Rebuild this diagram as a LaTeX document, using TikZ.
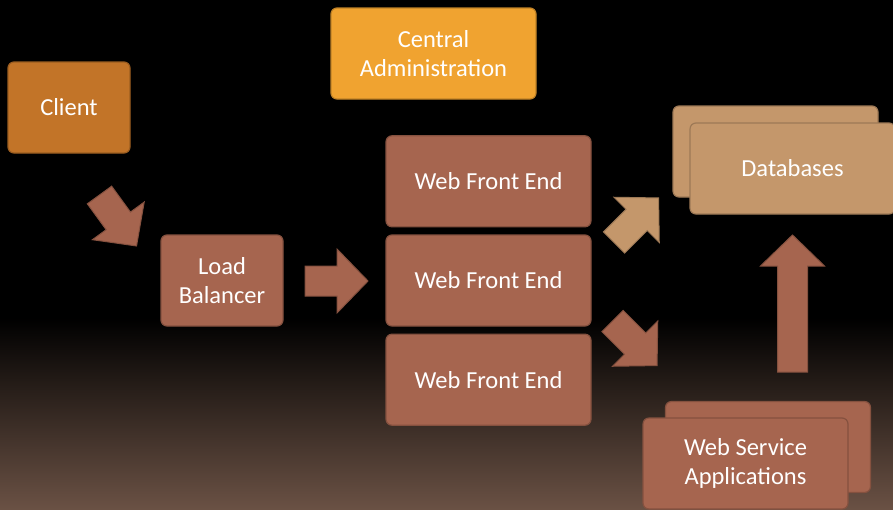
\documentclass[tikz,border=0pt]{standalone}
\usepackage{fontspec}
\setmainfont{Carlito}
\usetikzlibrary{positioning}

\definecolor{rust}{HTML}{A6654F}
\definecolor{tan}{HTML}{C4976B}
\definecolor{clientc}{HTML}{C27428}
\definecolor{admin}{HTML}{F0A330}
\definecolor{bgbot}{HTML}{6A5144}

\begin{document}
\begin{tikzpicture}[x=1pt,y=-1pt,node distance=7pt,
	box/.style={draw=#1!80!black,fill=#1,line width=1.2pt,rounded corners=6pt,
		minimum width=122pt,minimum height=91pt,inner sep=2pt,
		text=white,align=center,font=\fontsize{24.5}{29}\selectfont},
	wide/.style={minimum width=205pt},
	flow/.style={fill=#1,draw=#1!80!black,line width=1pt},
	pics/blockarrow/.style={code={
		\draw[pic actions] (0,-15) -- (#1-31,-15) -- (#1-31,-32) -- (#1,0)
			-- (#1-31,32) -- (#1-31,15) -- (0,15) -- cycle;}}]
	\useasboundingbox (0,0) rectangle (893,509);
	% background
	\fill[black] (0,0) rectangle (893,509);
	\shade[top color=black,bottom color=bgbot] (0,318) rectangle (893,509);

	\node[box=clientc] (client) at (69,107.5) {Client};
	\node[box=admin,wide] (admin) at (433.5,53.5) {Central\\Administration};
	\node[box=rust] (lb) at (222,280.5) {Load\\Balancer};
	\node[box=rust,wide] (wfe2) at (488.5,280.5) {Web Front End};
	\node[box=rust,wide] (wfe1) [above=of wfe2] {Web Front End};
	\node[box=rust,wide] (wfe3) [below=of wfe2] {Web Front End};
	\node[box=tan,wide] (db0) at (775.5,151.5) {};
	\node[box=tan,wide] (db) at (792.5,168.5) {Databases};
	\node[box=rust,wide] (wsa0) at (768,447) {};
	\node[box=rust,wide] (wsa) at (745.5,463.5) {Web Service\\Applications};

	% block arrows
	\pic[flow=rust,rotate=-54] at (99.5,195) {blockarrow=63};
	\pic[flow=rust] at (305,281) {blockarrow=63};
	\pic[flow=tan,rotate=45] at (614,242.5) {blockarrow=63};
	\pic[flow=rust,rotate=-45] at (612.5,321) {blockarrow=63};
	\pic[flow=rust,rotate=90] at (792.5,372) {blockarrow=137};
\end{tikzpicture}
\end{document}
